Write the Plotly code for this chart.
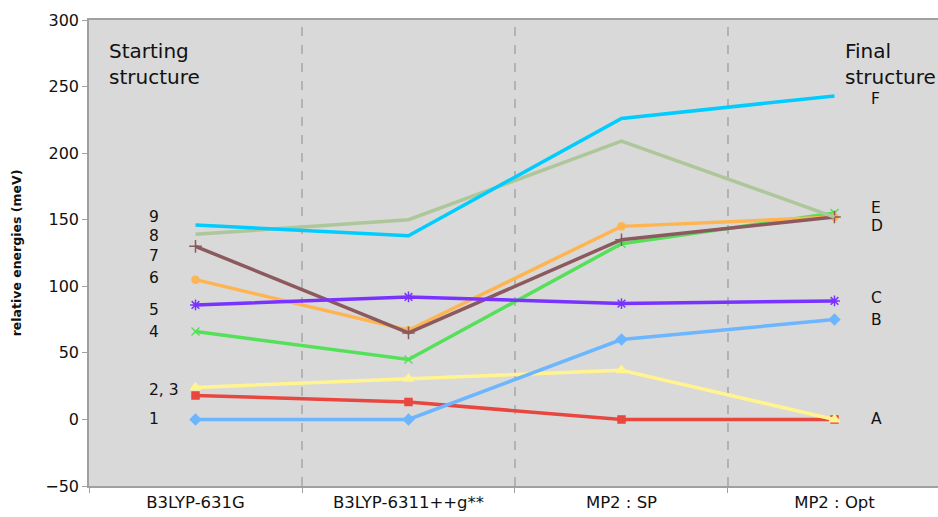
import plotly.graph_objects as go

categories = ["B3LYP-631G", "B3LYP-6311++g**", "MP2 : SP", "MP2 : Opt"]

s_blue = [0, 0, 60, 75]
s_red = [18, 13, 0, 0]
s_yellow = [24, 30.5, 37, 0]
s_green = [66, 45, 132, 155]
s_purple = [86, 92, 87, 89]
s_orange = [105, 67, 145, 152]
s_brown = [130, 65, 135, 152]
s_sage = [139, 150, 209, 152]
s_cyan = [146, 138, 226, 243]

start_labels = ["9", "8", "7", "6", "5", "4", "2, 3", "1"]
start_label_vals = [152, 138, 123, 106, 82, 66, 22, 0]
final_labels = ["F", "E", "D", "C", "B", "A"]
final_label_vals = [241, 159, 145, 91, 75, 0]

y_ticks = [-50, 0, 50, 100, 150, 200, 250, 300]

FONT = "DejaVu Sans"
TXT = "#111111"

series = [
    (s_red, "#e8473f", "square", 7),
    (s_yellow, "#fff48f", "triangle-up", 9),
    (s_blue, "#6cb6ff", "diamond", 8),
    (s_green, "#55e05a", "x-thin", 8),
    (s_orange, "#ffb452", "circle", 7),
    (s_brown, "#8c5a5e", "cross-thin", 9),
    (s_purple, "#7a33ff", "asterisk", 9),
    (s_sage, "#adc79a", None, 0),
    (s_cyan, "#00ccff", None, 0),
]

fig = go.Figure()
for vals, col, sym, size in series:
    if sym:
        fig.add_trace(go.Scatter(
            x=categories, y=vals, mode="lines+markers",
            line=dict(color=col, width=3.5),
            marker=dict(symbol=sym, size=size, color=col,
                        line=dict(color=col, width=1.5)),
            showlegend=False, hoverinfo="skip"))
    else:
        fig.add_trace(go.Scatter(
            x=categories, y=vals, mode="lines",
            line=dict(color=col, width=3.5),
            showlegend=False, hoverinfo="skip"))

for xb in [0.5, 1.5, 2.5]:
    fig.add_shape(type="line", xref="x", yref="paper", x0=xb, x1=xb, y0=0, y1=1,
                  line=dict(color="#a6a6a6", width=1.5, dash="dash"), layer="below")

for lab, v in zip(start_labels, start_label_vals):
    fig.add_annotation(x=-0.23, y=v, xref="x", yref="y", text=lab, showarrow=False,
                       xanchor="left", yanchor="middle", font=dict(family=FONT, size=15.5, color=TXT))
for lab, v in zip(final_labels, final_label_vals):
    fig.add_annotation(x=3.16, y=v, xref="x", yref="y", text=lab, showarrow=False,
                       xanchor="left", yanchor="middle", font=dict(family=FONT, size=15.5, color=TXT))

fig.add_annotation(x=-0.415, y=267, xref="x", yref="y", text="Starting<br>structure",
                   showarrow=False, xanchor="left", yanchor="middle", align="left",
                   font=dict(family=FONT, size=20, color=TXT))
fig.add_annotation(x=3.04, y=267, xref="x", yref="y", text="Final<br>structure",
                   showarrow=False, xanchor="left", yanchor="middle", align="left",
                   font=dict(family=FONT, size=20, color=TXT))

fig.update_layout(
    width=938, height=517,
    margin=dict(l=89, r=0, t=20, b=31),
    paper_bgcolor="white", plot_bgcolor="#d9d9d9",
    font=dict(family=FONT, color=TXT),
    xaxis=dict(type="category", range=[-0.5, 3.486], showgrid=False, zeroline=False,
               showline=True, linecolor="#a0a0a0", linewidth=1.5, mirror=True,
               ticks="outside", tickson="boundaries", ticklen=5, tickcolor="#a0a0a0",
               tickfont=dict(family=FONT, size=16.5, color=TXT)),
    yaxis=dict(range=[-50, 300], tickvals=y_ticks, showgrid=False, zeroline=False,
               showline=True, linecolor="#a0a0a0", linewidth=1.5,
               ticks="outside", ticklen=5, tickcolor="#a0a0a0",
               tickfont=dict(family=FONT, size=16, color=TXT),
               title=dict(text="<b>relative energies (meV)</b>", standoff=21,
                          font=dict(family=FONT, size=12.5, color=TXT))),
)

fig.write_html("out.html", config={"displayModeBar": False},
               post_script="document.body.style.margin='0';document.body.style.padding='0';")
